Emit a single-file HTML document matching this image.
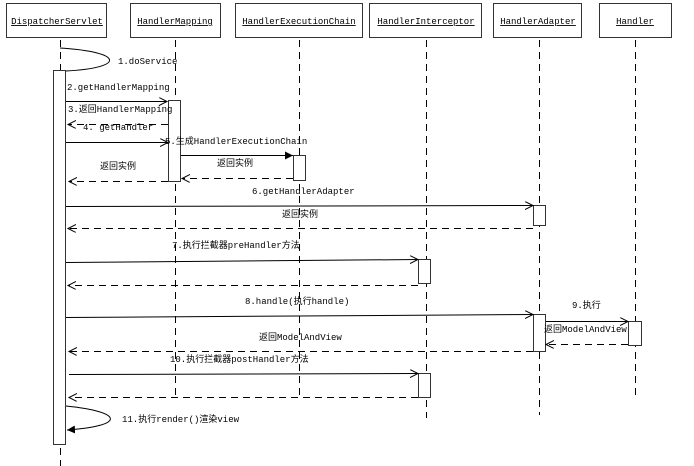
<!DOCTYPE html>
<html><head><meta charset="utf-8"><style>
html,body{margin:0;padding:0;background:#fff;}
svg{display:block;}
text{font-family:"Liberation Mono","Noto Sans CJK SC",monospace;font-size:9px;fill:#000;}
</style></head><body>
<svg width="694" height="466" viewBox="0 0 694 466" xmlns="http://www.w3.org/2000/svg">
<defs>
<marker id="o" markerWidth="10" markerHeight="10" refX="8" refY="4" orient="auto" markerUnits="userSpaceOnUse"><path d="M0,0 L8,4 L0,8" fill="none" stroke="#000" stroke-width="1"/></marker>
<marker id="f" markerWidth="10" markerHeight="10" refX="8" refY="4" orient="auto" markerUnits="userSpaceOnUse"><path d="M0,0 L8,4 L0,8 Z" fill="#000"/></marker>
</defs>
<g fill="#fff" stroke="#333" stroke-width="1">
<rect x="6.5" y="3.5" width="100" height="34"/>
<rect x="130.5" y="3.5" width="90" height="34"/>
<rect x="235.5" y="3.5" width="127" height="34"/>
<rect x="369.5" y="3.5" width="112" height="34"/>
<rect x="493.5" y="3.5" width="88" height="34"/>
<rect x="599.5" y="3.5" width="72" height="34"/>
</g>
<g text-anchor="middle" text-decoration="underline">
<text x="57" y="24">DispatcherServlet</text>
<text x="175" y="24">HandlerMapping</text>
<text x="299" y="24">HandlerExecutionChain</text>
<text x="426" y="24">HandlerInterceptor</text>
<text x="538" y="24">HandlerAdapter</text>
<text x="635" y="24">Handler</text>
</g>
<g stroke="#000" stroke-width="1" stroke-dasharray="7,5" fill="none">
<line x1="60.5" y1="40" x2="60.5" y2="466"/>
<line x1="175.5" y1="40" x2="175.5" y2="397"/>
<line x1="299.5" y1="40" x2="299.5" y2="397"/>
<line x1="426.5" y1="40" x2="426.5" y2="418"/>
<line x1="539.5" y1="40" x2="539.5" y2="415"/>
<line x1="635.5" y1="40" x2="635.5" y2="397"/>
</g>
<g fill="#fff" stroke="#333">
<rect x="53.5" y="70.5" width="12" height="374"/>
<rect x="168.5" y="100.5" width="12" height="81"/>
<rect x="293.5" y="155.5" width="12" height="25"/>
<rect x="533.5" y="205.5" width="12" height="20"/>
<rect x="418.5" y="259.5" width="12" height="24"/>
<rect x="533.5" y="314.5" width="12" height="37"/>
<rect x="628.5" y="321.5" width="13" height="24"/>
<rect x="418.5" y="373.5" width="12" height="24"/>
</g>
<g stroke="#000" stroke-width="1" fill="none">
<path d="M60,48 C125,52 125,68 66,71"/>
<line x1="66" y1="101.5" x2="167" y2="101.5" marker-end="url(#o)"/>
<line x1="168" y1="124.5" x2="68" y2="124.5" stroke-dasharray="7,5" marker-end="url(#o)"/>
<line x1="66" y1="142.5" x2="168" y2="142.5" marker-end="url(#o)"/>
<line x1="181" y1="155.5" x2="293" y2="155.5" marker-end="url(#f)"/>
<line x1="293" y1="178.5" x2="182" y2="178.5" stroke-dasharray="7,5" marker-end="url(#o)"/>
<line x1="168" y1="181.5" x2="69" y2="181.5" stroke-dasharray="7,5" marker-end="url(#o)"/>
<line x1="66" y1="206.5" x2="533" y2="205.5" marker-end="url(#o)"/>
<line x1="533" y1="228.5" x2="68" y2="228.5" stroke-dasharray="7,5" marker-end="url(#o)"/>
<line x1="66" y1="262.5" x2="418" y2="259.5" marker-end="url(#o)"/>
<line x1="418" y1="285.5" x2="68" y2="285.5" stroke-dasharray="7,5" marker-end="url(#o)"/>
<line x1="66" y1="317.5" x2="533" y2="314.5" marker-end="url(#o)"/>
<line x1="546" y1="321.5" x2="628" y2="321.5" marker-end="url(#o)"/>
<line x1="628" y1="344.5" x2="546" y2="344.5" stroke-dasharray="7,5" marker-end="url(#o)"/>
<line x1="533" y1="351.5" x2="69" y2="351.5" stroke-dasharray="7,5" marker-end="url(#o)"/>
<line x1="69" y1="374.5" x2="418" y2="373.5" marker-end="url(#o)"/>
<line x1="418" y1="397.5" x2="69" y2="397.5" stroke-dasharray="7,5" marker-end="url(#o)"/>
<path d="M66,406 C125,412 125,426 67,430" marker-end="url(#f)"/>
</g>
<text x="118" y="64">1.doService</text>
<text x="67" y="90">2.getHandlerMapping</text>
<text x="68" y="112">3.返回HandlerMapping</text>
<text x="83" y="130">4. getHandler</text>
<text x="165" y="144">5.生成HandlerExecutionChain</text>
<text x="217" y="166">返回实例</text>
<text x="100" y="169">返回实例</text>
<text x="252" y="194">6.getHandlerAdapter</text>
<text x="282" y="217">返回实例</text>
<text x="172" y="248">7.执行拦截器preHandler方法</text>
<text x="245" y="304">8.handle(执行handle)</text>
<text x="572" y="308">9.执行</text>
<text x="544" y="332">返回ModelAndView</text>
<text x="259" y="340">返回ModelAndView</text>
<text x="170" y="362">10.执行拦截器postHandler方法</text>
<text x="122" y="422">11.执行render()渲染view</text>
</svg>
</body></html>
